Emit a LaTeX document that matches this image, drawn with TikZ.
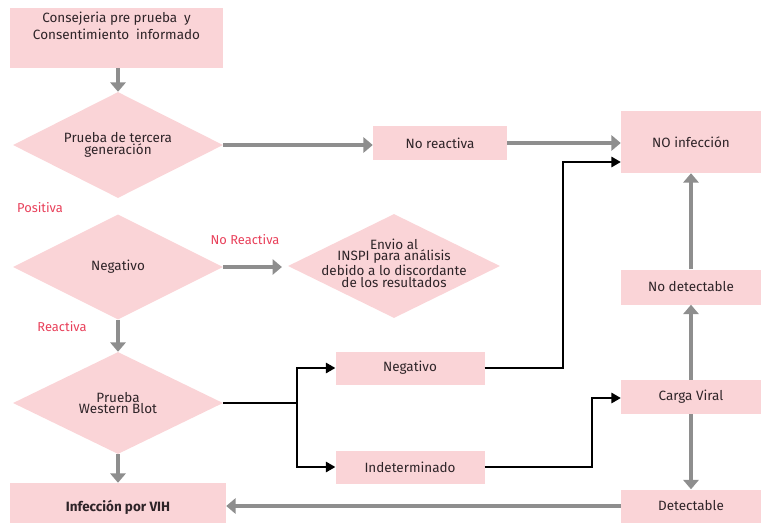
\documentclass[tikz,border=0pt]{standalone}
\usepackage{fontspec}
\setmainfont{Fira Sans}
\usetikzlibrary{shapes.geometric,arrows.meta}
\definecolor{rosa}{HTML}{FAD4D7}
\definecolor{gris}{HTML}{8E8E8E}
\definecolor{rojo}{HTML}{E8405A}
\definecolor{texto}{HTML}{2E2428}
\begin{document}
\begin{tikzpicture}[x=0.03cm,y=-0.03cm,
    caja/.style={fill=rosa,inner sep=0pt,text=texto,font=\fontsize{11.5}{12}\selectfont},
    rombo/.style={diamond,fill=rosa,inner sep=0pt,aspect=2},
    rombotxt/.style={text=texto,align=center,font=\fontsize{11.5}{10}\selectfont},
    etiq/.style={text=rojo,font=\fontsize{11}{12}\selectfont},
    flecha/.style={draw=gris,line width=4pt,-{Triangle[length=8pt,width=13pt]}},
    linea/.style={draw=black,line width=1.1pt},
    lineaf/.style={linea,-{Triangle[length=8pt,width=9pt]}}]
  \useasboundingbox (0,0) rectangle (761,523);
  % cajas
  \node[caja,minimum width=213*0.03cm,minimum height=60*0.03cm] (cons) at (116.5,38) {};
  \node[rombotxt,font=\fontsize{11.5}{15}\selectfont] (consT) at (116.5,26) {Consejeria pre prueba\enspace y\\Consentimiento\enspace informado};
  \node[rombo,minimum width=210*0.03cm,minimum height=106*0.03cm] (d1) at (118,145) {};
  \node[rombotxt] (d1T) at (d1) {Prueba de tercera\\generación};
  \node[caja,minimum width=134*0.03cm,minimum height=34*0.03cm] (noreac) at (440,143) {No reactiva};
  \node[caja,minimum width=140*0.03cm,minimum height=62*0.03cm] (noinf) at (691,142) {NO infección};
  \node[etiq] (pos) at (40,208) {Positiva};
  \node[rombo,minimum width=210*0.03cm,minimum height=105*0.03cm] (d2) at (118,267) {};
  \node[rombotxt] (d2T) at (d2) {Negativo};
  \node[etiq] (noreacT) at (245,240) {No Reactiva};
  \node[rombo,minimum width=212*0.03cm,minimum height=104*0.03cm] (d3) at (394,266) {};
  \node[rombotxt] (d3T) at (394,263) {Envio al\\INSPI para análisis\\debido a lo discordante\\de los resultados};
  \node[etiq] (reac) at (62,327) {Reactiva};
  \node[rombo,minimum width=210*0.03cm,minimum height=102*0.03cm] (wb) at (118,403) {};
  \node[rombotxt] (wbT) at (wb) {Prueba\\Western Blot};
  \node[caja,minimum width=149*0.03cm,minimum height=33*0.03cm] (neg) at (410,368) {Negativo};
  \node[caja,minimum width=149*0.03cm,minimum height=33*0.03cm] (indet) at (410,467) {Indeterminado};
  \node[caja,minimum width=216*0.03cm,minimum height=40*0.03cm] (vih) at (118,503) {};
  \node[caja,fill=none,font=\bfseries\fontsize{11.5}{12}\selectfont] (vihT) at (118,507) {Infección por VIH};
  \node[caja,minimum width=140*0.03cm,minimum height=35*0.03cm] (nodet) at (691,287) {No detectable};
  \node[caja,minimum width=140*0.03cm,minimum height=34*0.03cm] (carga) at (691,397) {Carga Viral};
  \node[caja,minimum width=140*0.03cm,minimum height=33*0.03cm] (detect) at (691,506) {Detectable};
  % flechas grises
  \draw[flecha] (cons.south -| d1.north) -- (d1.north);
  \draw[flecha] (d1.east) -- (d1.east -| noreac.west);
  \draw[flecha] (noreac.east) -- (noreac.east -| noinf.west);
  \draw[flecha,shorten >=5pt] (d2.east) -- (d2.east -| d3.west);
  \draw[flecha] (d2.south) -- (wb.north);
  \draw[flecha] (wb.south) -- (wb.south |- vih.north);
  \draw[flecha] (detect.west) -- (detect.west -| vih.east);
  \draw[flecha] (carga.south) -- (detect.north);
  \draw[flecha] (carga.north) -- (nodet.south);
  \draw[flecha] (nodet.north) -- (noinf.south);
  % lineas negras
  \coordinate (rama) at (297,403);
  \coordinate (codo1) at (563,162);
  \coordinate (codo2) at (592,398);
  \draw[linea] (wb.east) -- (rama);
  \draw[lineaf] (rama) |- (neg.west);
  \draw[lineaf] (rama) |- (indet.west);
  \draw[lineaf] (neg.east) -| (codo1) -- (codo1 -| noinf.west);
  \draw[lineaf] (indet.east) -| (codo2) -- (codo2 -| carga.west);
\end{tikzpicture}
\end{document}
